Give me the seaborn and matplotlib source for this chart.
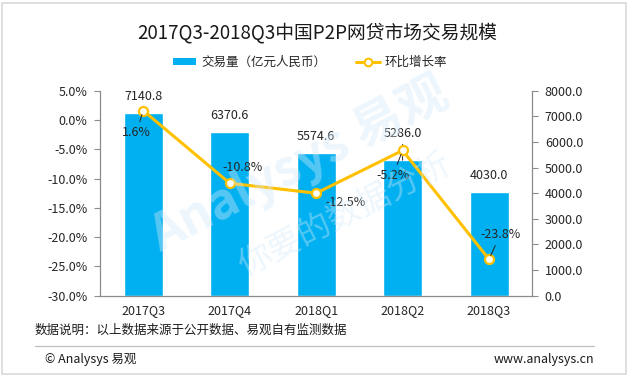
import numpy as np
import matplotlib
matplotlib.use("Agg")
import matplotlib.pyplot as plt
from matplotlib.patches import Patch, Rectangle
from matplotlib.lines import Line2D
import seaborn as sns

# data
quarters = ["2017Q3", "2017Q4", "2018Q1", "2018Q2", "2018Q3"]
volume = [7140.8, 6370.6, 5574.6, 5286.0, 4030.0]   # 亿元人民币
growth = [1.6, -10.8, -12.5, -5.2, -23.8]           # 环比增长率 %

bar_col = "#00B0F0"
line_col = "#FFC000"
txt_col = "#262626"
axis_col = "#8c8c8c"
fs = 9

sns.set_theme(style="white")
plt.rcParams["font.family"] = ["Noto Sans CJK SC", "DejaVu Sans"]

W, H = 628, 375
fig = plt.figure(figsize=(W / 100, H / 100), dpi=100)
ax = fig.add_axes([100 / W, 1 - 295.7 / H, 432.3 / W, 205 / H])
ax.patch.set_visible(False)

# bars -> right axis scale
sns.barplot(x=quarters, y=volume, color=bar_col, saturation=1, width=0.45, ax=ax)
ax.set_ylim(0, 8000)
ax.set_yticks(np.arange(0, 8001, 1000))
ax.set_yticklabels([f"{v:.1f}" for v in np.arange(0, 8001, 1000)])
ax.set_xlim(-0.5, len(quarters) - 0.5)
ax.set_xticks(np.arange(-0.5, len(quarters), 1), minor=True)
ax.tick_params(axis="x", which="major", length=0, pad=6, labelsize=fs, labelcolor=txt_col)
ax.tick_params(axis="x", which="minor", length=4, width=0.8, color=axis_col, direction="out")
ax.set_xlabel("")
ax.set_ylabel("")
for s in ["left", "right", "bottom"]:
    ax.spines[s].set_visible(True)
    ax.spines[s].set_color(axis_col)
    ax.spines[s].set_linewidth(0.9)
ax.spines["top"].set_visible(False)

# bar value labels
bar_off = [12, 12, 12, 19.5, 12]
for i, v in enumerate(volume):
    arrow = dict(arrowstyle="-", color=txt_col, lw=0.7, shrinkA=1, shrinkB=0) if bar_off[i] > 15 else None
    ax.annotate(f"{v:.1f}", xy=(i, v), xytext=(0, bar_off[i]), textcoords="offset points",
                ha="center", va="center", fontsize=fs, color=txt_col, arrowprops=arrow)

# line -> left axis scale
ax2 = ax.twinx()
sns.lineplot(x=np.arange(len(quarters)), y=growth, ax=ax2, color=line_col, linewidth=2.2,
             marker="o", markersize=6.5, markerfacecolor="white", markeredgecolor=line_col,
             markeredgewidth=1.6, zorder=5)
ax2.set_ylim(-30, 5)
ax2.set_yticks(np.arange(-30, 5.1, 5))
ax2.set_yticklabels([f"{v:.1f}%" for v in np.arange(-30, 5.1, 5)])
ax2.tick_params(axis="y", length=4, width=0.8, color=axis_col, direction="out", pad=5,
                labelsize=fs, labelcolor=txt_col, left=True, labelleft=True,
                right=False, labelright=False)
ax2.set_ylabel("")
for s in ax2.spines.values():
    s.set_visible(False)

# twinx moved the bar axis ticks to the left, put them back on the right
ax.tick_params(axis="y", length=4, width=0.8, color=axis_col, direction="out", pad=5,
               labelsize=fs, labelcolor=txt_col, right=True, labelright=True,
               left=False, labelleft=False)

# growth labels: offsets in points, leader line or not
g_off = [(-5, -16, True), (9, 11, False), (21, -6.5, False), (-7, -18, True), (8, 18, True)]
for i, g in enumerate(growth):
    dx, dy, lead = g_off[i]
    arrow = dict(arrowstyle="-", color=txt_col, lw=0.7, shrinkA=1, shrinkB=3) if lead else None
    ax2.annotate(f"{g:.1f}%", xy=(i, g), xytext=(dx, dy), textcoords="offset points",
                 ha="center", va="center", fontsize=fs, color=txt_col, arrowprops=arrow, zorder=6)

# title + legend
fig.text(317 / W, 1 - 33 / H, "2017Q3-2018Q3中国P2P网贷市场交易规模", ha="center", va="center",
         fontsize=13.5, color="#1a1a1a")
handles = [Patch(facecolor=bar_col, edgecolor="none", label="交易量（亿元人民币）"),
           Line2D([], [], color=line_col, lw=2.2, marker="o", markersize=5.5,
                  markerfacecolor="white", markeredgecolor=line_col, markeredgewidth=1.5,
                  label="环比增长率")]
fig.legend(handles=handles, loc="center", bbox_to_anchor=(310 / W, 1 - 62 / H), ncol=2,
           frameon=False, fontsize=fs, handlelength=1.9, handleheight=0.5,
           handletextpad=0.4, columnspacing=2.4, labelcolor=txt_col)

# watermark
fig.text(300 / W, 1 - 165 / H, "Analysys 易观", rotation=27, ha="center", va="center",
         fontsize=36, fontweight="bold", color="#d4eafa", alpha=0.4, zorder=10)
fig.text(345 / W, 1 - 215 / H, "你要的数据分析", rotation=27, ha="center", va="center",
         fontsize=24, color="#d4eafa", alpha=0.4, zorder=10)

# footnote + footer
fig.text(35 / W, 1 - 330 / H, "数据说明：以上数据来源于公开数据、易观自有监测数据", ha="left", va="center",
         fontsize=fs, color="#1a1a1a")
fig.add_artist(Line2D([35 / W, 594 / W], [1 - 346 / H, 1 - 346 / H], color="#bfbfbf", lw=0.9))
fig.text(45 / W, 1 - 359 / H, "© Analysys 易观", ha="left", va="center", fontsize=fs, color="#1a1a1a")
fig.text(594 / W, 1 - 359 / H, "www.analysys.cn", ha="right", va="center", fontsize=fs, color="#1a1a1a")
fig.add_artist(Rectangle((1.5 / W, 1.5 / H), 1 - 4 / W, 1 - 4 / H, fill=False,
                         edgecolor="#d9d9d9", lw=1.2))

fig.savefig("out.png", dpi=100)
